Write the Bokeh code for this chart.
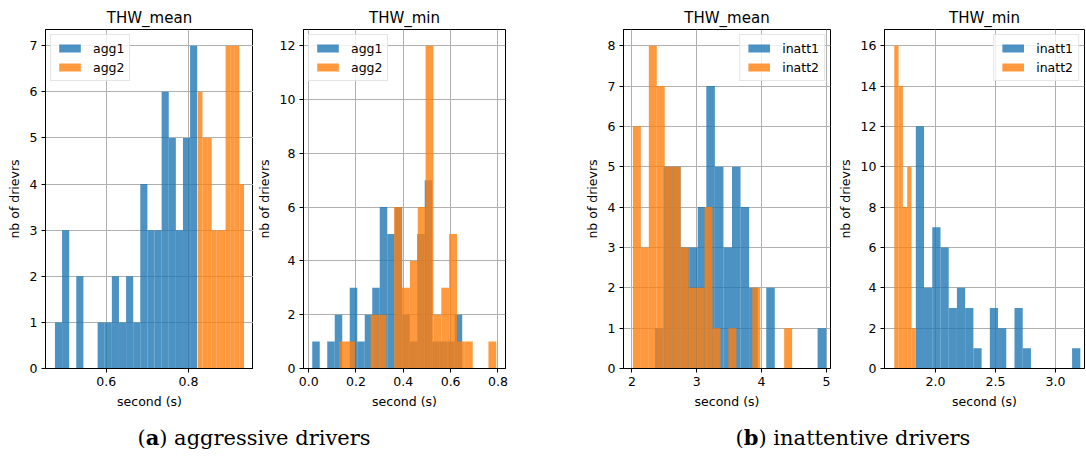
import numpy as np
from bokeh.plotting import figure
from bokeh.models import ColumnDataSource, FixedTicker, NumeralTickFormatter, Div, Spacer
from bokeh.layouts import row, column
from bokeh.embed import file_html
from bokeh.resources import INLINE

# ---------------- data ----------------
titles = ["THW_mean", "THW_min", "THW_mean", "THW_min"]
names_a = ["agg1", "agg2"]
names_b = ["inatt1", "inatt2"]
x_label = "second (s)"
y_label = "nb of drievrs"
caption_a = ("a", "aggressive drivers")
caption_b = ("b", "inattentive drivers")

# histogram counts per bin and the (first edge, last edge) of each series
agg1_mean_counts = [1, 3, 0, 2, 0, 0, 1, 1, 2, 1, 2, 1, 4, 3, 3, 6, 5, 3, 5, 7]
agg1_mean_edges = (0.4756, 0.8211)
agg2_mean_counts = [6, 5, 5, 3, 3, 3, 7, 7, 7, 4]
agg2_mean_edges = (0.8228, 0.9349)

agg1_min_counts = [1, 0, 1, 2, 0, 3, 1, 2, 3, 6, 5, 6, 2, 1, 5, 7, 1, 1, 1, 2]
agg1_min_edges = (0.0152, 0.6490)
agg2_min_counts = [1, 1, 0, 0, 2, 2, 0, 6, 3, 4, 6, 12, 2, 3, 5, 1, 1, 0, 0, 1]
agg2_min_edges = (0.129, 0.793)

inatt1_mean_counts = [1, 5, 5, 3, 3, 4, 7, 5, 3, 5, 4, 2, 0, 2, 0, 0, 0, 0, 0, 1]
inatt1_mean_edges = (2.355, 4.996)
inatt2_mean_counts = [6, 3, 8, 7, 5, 5, 3, 2, 2, 4, 1, 0, 1, 0, 0, 2, 0, 0, 0, 1]
inatt2_mean_edges = (2.015, 4.471)

inatt1_min_counts = [12, 4, 7, 6, 3, 4, 3, 1, 0, 3, 2, 0, 3, 1, 0, 0, 0, 0, 0, 1]
inatt1_min_edges = (1.836, 3.207)
inatt2_min_counts = [16, 14, 8, 10, 2]
inatt2_min_edges = (1.6565, 1.836)

# axis ranges / ticks
x_ranges = [(0.4526, 0.9579), (-0.0218, 0.8319), (1.870, 5.063), (1.575, 3.242)]
y_maxes = [7, 12, 8, 16]
x_ticks = [[0.6, 0.8], [0.0, 0.2, 0.4, 0.6, 0.8], [2, 3, 4, 5], [2.0, 2.5, 3.0]]
x_formats = ["0.0", "0.0", "0", "0.0"]
y_ticks = [list(range(0, 8)), list(range(0, 13, 2)), list(range(0, 9)), list(range(0, 17, 2))]

BLUE = "#1f77b4"
ORANGE = "#ff7f0e"
FONT = "DejaVu Sans"


def panel(idx, series, width, bl, br, bt, bb, loc):
    p = figure(width=width, height=418, x_range=x_ranges[idx],
               y_range=(0, y_maxes[idx] * 1.05), title=titles[idx],
               output_backend="svg", toolbar_location=None,
               min_border_left=bl, min_border_right=br,
               min_border_top=bt, min_border_bottom=bb)
    for name, counts, edges, color in series:
        e = np.linspace(edges[0], edges[1], len(counts) + 1)
        src = ColumnDataSource(dict(left=e[:-1], right=e[1:], top=counts,
                                    bottom=[0] * len(counts)))
        p.quad(left="left", right="right", top="top", bottom="bottom", source=src,
               fill_color=color, fill_alpha=0.8, line_color=None, legend_label=name)

    p.title.align = "center"
    p.title.text_font = FONT
    p.title.text_font_size = "15px"
    p.title.text_font_style = "normal"
    p.title.text_color = "black"
    p.title.standoff = 6

    p.xaxis.ticker = FixedTicker(ticks=x_ticks[idx])
    p.xaxis.formatter = NumeralTickFormatter(format=x_formats[idx])
    p.yaxis.ticker = FixedTicker(ticks=y_ticks[idx])
    p.yaxis.formatter = NumeralTickFormatter(format="0")
    p.xaxis.axis_label = x_label
    p.yaxis.axis_label = y_label
    for ax in (p.xaxis, p.yaxis):
        ax.axis_label_text_font = FONT
        ax.axis_label_text_font_size = "12.5px"
        ax.axis_label_text_font_style = "normal"
        ax.axis_label_text_color = "black"
        ax.axis_label_standoff = 5
        ax.major_label_text_font = FONT
        ax.major_label_text_font_size = "12.5px"
        ax.major_label_text_color = "black"
        ax.major_label_standoff = 4
        ax.major_tick_out = 4
        ax.major_tick_in = 0
        ax.minor_tick_out = 0
        ax.minor_tick_in = 0
        ax.axis_line_color = "black"
        ax.major_tick_line_color = "black"

    p.grid.grid_line_color = "#b0b0b0"
    p.grid.grid_line_width = 1
    p.outline_line_color = "black"
    p.outline_line_width = 1
    p.background_fill_color = "white"
    p.border_fill_color = "white"

    lg = p.legend[0]
    lg.location = loc
    lg.margin = 5
    lg.padding = 5
    lg.spacing = 3
    lg.glyph_width = 27
    lg.glyph_height = 10
    lg.label_height = 16
    lg.label_standoff = 10
    lg.label_text_font = FONT
    lg.label_text_font_size = "12.5px"
    lg.label_text_color = "black"
    lg.border_line_color = "#cccccc"
    lg.border_line_width = 1
    lg.background_fill_alpha = 0.8
    return p


p1 = panel(0, [(names_a[0], agg1_mean_counts, agg1_mean_edges, BLUE),
               (names_a[1], agg2_mean_counts, agg2_mean_edges, ORANGE)],
           253, 45, 0, 29, 50, "top_left")
p2 = panel(1, [(names_a[0], agg1_min_counts, agg1_min_edges, BLUE),
               (names_a[1], agg2_min_counts, agg2_min_edges, ORANGE)],
           262, 43, 10, 29, 50, "top_left")
p3 = panel(2, [(names_b[0], inatt1_mean_counts, inatt1_mean_edges, BLUE),
               (names_b[1], inatt2_mean_counts, inatt2_mean_edges, ORANGE)],
           319, 108, 4, 23, 48, "top_right")
p4 = panel(3, [(names_b[0], inatt1_min_counts, inatt1_min_edges, BLUE),
               (names_b[1], inatt2_min_counts, inatt2_min_edges, ORANGE)],
           252, 44, 2, 23, 48, "top_right")

cap_style = {"font-family": "DejaVu Serif", "font-size": "21px", "text-align": "center",
             "color": "black", "padding-top": "0px"}
div_a = Div(text="(<b>%s</b>) %s" % caption_a, width=498, height=44, styles=cap_style)
div_b = Div(text="(<b>%s</b>) %s" % caption_b, width=432, height=44, styles=cap_style)

layout = column(row(p1, p2, p3, p4), row(div_a, Spacer(width=124, height=44), div_b))

open("out.html", "w").write(file_html(layout, INLINE))
